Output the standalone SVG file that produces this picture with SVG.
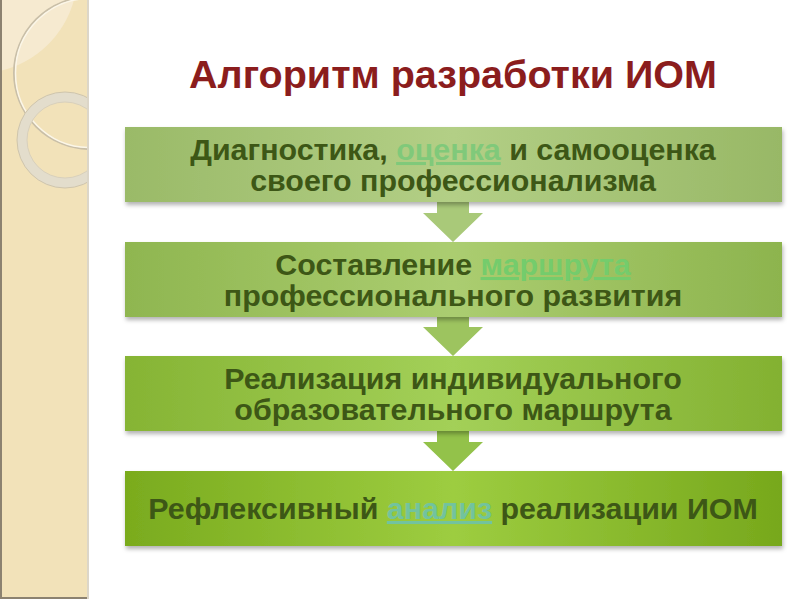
<svg xmlns="http://www.w3.org/2000/svg" width="800" height="600" viewBox="0 0 800 600">
<defs>
<style>
.t{font-family:"Liberation Sans",Arial,sans-serif;font-weight:bold;font-size:30.4px;fill:#3d5716;text-anchor:middle}
.title{font-family:"Liberation Sans",Arial,sans-serif;font-weight:bold;font-size:39.5px;fill:#8b1d1d;text-anchor:middle}
.l1{fill:#80c97a;text-decoration:underline}
.l2{fill:#74cc6c;text-decoration:underline}
.l3{fill:#72c39e;text-decoration:underline}
</style>
<linearGradient id="g1" x1="0" x2="1" y1="0" y2="0"><stop offset="0" stop-color="#9aba68"/><stop offset="0.5" stop-color="#b3cf86"/><stop offset="1" stop-color="#98b866"/></linearGradient>
<linearGradient id="g2" x1="0" x2="1" y1="0" y2="0"><stop offset="0" stop-color="#8fb650"/><stop offset="0.5" stop-color="#abcd70"/><stop offset="1" stop-color="#8db44e"/></linearGradient>
<linearGradient id="g3" x1="0" x2="1" y1="0" y2="0"><stop offset="0" stop-color="#86b434"/><stop offset="0.5" stop-color="#a3d058"/><stop offset="1" stop-color="#83b131"/></linearGradient>
<linearGradient id="g4" x1="0" x2="1" y1="0" y2="0"><stop offset="0" stop-color="#7aab1e"/><stop offset="0.5" stop-color="#9dcd40"/><stop offset="1" stop-color="#77a81c"/></linearGradient>
<filter id="sh" x="-5%" y="-10%" width="110%" height="130%"><feDropShadow dx="1" dy="3" stdDeviation="2" flood-color="#000" flood-opacity="0.3"/></filter>
<clipPath id="band"><rect x="0" y="0" width="88" height="600"/></clipPath>
<path id="arr" d="M-16,-18 H16 V0 H30 L0,29 L-30,0 H-16 Z"/>
</defs>
<rect width="800" height="600" fill="#ffffff"/>
<g id="sidebar">
<rect x="0" y="0" width="88" height="599" fill="#f2e2b9"/>
<g clip-path="url(#band)">
<path d="M0,0 H74 A100 100 0 0 1 0 71 Z" fill="#f6ead0"/>
<circle cx="90" cy="73" r="76" fill="none" stroke="#c9bfa8" stroke-width="2"/>
<circle cx="90" cy="73" r="74.5" fill="none" stroke="#fbf6e8" stroke-width="1.5"/>
<circle cx="65" cy="140" r="43" fill="none" stroke="#e3ddcc" stroke-width="10"/>
<circle cx="65" cy="140" r="48" fill="none" stroke="#cfc5ac" stroke-width="1"/>
<circle cx="65" cy="140" r="38" fill="none" stroke="#d8d0bc" stroke-width="1"/>
</g>
<rect x="0" y="0" width="2" height="599" fill="#8c8270"/>
<rect x="0" y="597" width="88" height="2" fill="#8c8270"/>
<rect x="87" y="0" width="2" height="599" fill="#dcd6c8"/>
</g>
<text class="title" x="453" y="88">Алгоритм разработки ИОМ</text>
<g id="connectors">
<use href="#arr" x="453" y="213" fill="#a9c979"/>
<use href="#arr" x="453" y="327" fill="#9dc45f"/>
<use href="#arr" x="453" y="442" fill="#93c24a"/>
</g>
<g id="n1">
<rect x="125" y="127" width="657" height="75" fill="url(#g1)" filter="url(#sh)"/>
<text class="t"><tspan x="453" y="160">Диагностика, <tspan class="l1">оценка</tspan> и самооценка</tspan><tspan x="453" y="191">своего профессионализма</tspan></text>
</g>
<g id="n2">
<rect x="125" y="242" width="657" height="75" fill="url(#g2)" filter="url(#sh)"/>
<text class="t"><tspan x="453" y="275">Составление <tspan class="l2">маршрута</tspan></tspan><tspan x="453" y="306">профессионального развития</tspan></text>
</g>
<g id="n3">
<rect x="125" y="356" width="657" height="75" fill="url(#g3)" filter="url(#sh)"/>
<text class="t"><tspan x="453" y="389">Реализация индивидуального</tspan><tspan x="453" y="420">образовательного маршрута</tspan></text>
</g>
<g id="n4">
<rect x="125" y="471" width="657" height="75" fill="url(#g4)" filter="url(#sh)"/>
<text class="t" x="453" y="519">Рефлексивный <tspan class="l3">анализ</tspan> реализации ИОМ</text>
</g>
</svg>
